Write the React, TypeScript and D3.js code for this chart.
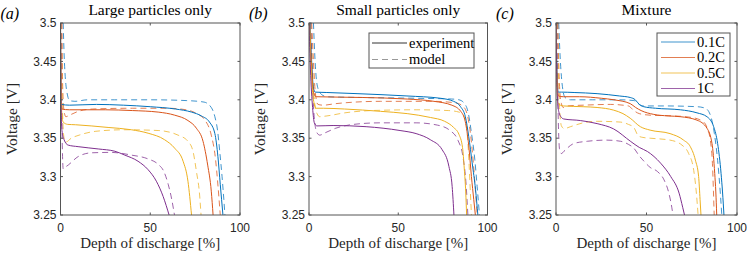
import * as d3 from 'd3';

type Pt = [number, number];

const DOD_TICKS = [0, 50, 100];
const V_TICKS = [3.25, 3.3, 3.35, 3.4, 3.45, 3.5];
const RATES = ['0.1C', '0.2C', '0.5C', '1C'];
const RATE_COLORS = ['#0072BD', '#D95319', '#EDB120', '#7E2F8E'];
const TITLES = ['Large particles only', 'Small particles only', 'Mixture'];
const TAGS = ['(a)', '(b)', '(c)'];

// (a) large particles: [depth of discharge %, voltage V], one list per C-rate
const largeExp: Pt[][] = [
  [[0, 3.5], [0.2, 3.42], [0.5, 3.394], [5, 3.393], [20, 3.394], [35, 3.393], [50, 3.391], [64, 3.388], [73, 3.384], [78.5, 3.379], [83, 3.371], [86, 3.356], [87.7, 3.326], [89, 3.29], [90.5, 3.25]],
  [[0, 3.5], [0.2, 3.42], [0.5, 3.388], [5, 3.387], [25, 3.387], [40, 3.386], [54.4, 3.384], [63.6, 3.38], [71, 3.373], [75.7, 3.363], [79.4, 3.346], [82, 3.315], [84, 3.281], [85, 3.25]],
  [[0, 3.5], [0.3, 3.42], [0.8, 3.38], [1.5, 3.371], [4, 3.368], [8.4, 3.3675], [26.5, 3.364], [39.5, 3.361], [48.8, 3.3565], [58, 3.348], [63.6, 3.337], [68.3, 3.32], [71, 3.294], [73, 3.25]],
  [[0, 3.5], [0.3, 3.4], [0.8, 3.36], [2, 3.348], [4.3, 3.341], [9.8, 3.339], [21, 3.336], [30.3, 3.333], [35.8, 3.328], [43.2, 3.32], [48.8, 3.309], [53.4, 3.294], [57.2, 3.274], [60.5, 3.25]],
];
const largeModel: Pt[][] = [
  [[1.5, 3.5], [2, 3.46], [2.5, 3.435], [3, 3.42], [4, 3.405], [5, 3.399], [8, 3.398], [15, 3.4], [30, 3.4], [50, 3.4], [70, 3.399], [80, 3.397], [84, 3.39], [86, 3.378], [87.5, 3.36], [88.7, 3.333], [90, 3.3], [91, 3.27], [91.6, 3.25]],
  [[0.8, 3.5], [1, 3.45], [1.3, 3.41], [2, 3.385], [3, 3.378], [5, 3.38], [10, 3.385], [18, 3.388], [40, 3.389], [60, 3.389], [70, 3.387], [76.6, 3.381], [80.3, 3.374], [84, 3.354], [86.3, 3.324], [87.7, 3.289], [89, 3.25]],
  [[0.5, 3.5], [0.8, 3.43], [1.2, 3.38], [2, 3.35], [3, 3.345], [6, 3.35], [10.4, 3.354], [19.7, 3.359], [35.8, 3.361], [54.4, 3.36], [65.5, 3.354], [71, 3.346], [73.8, 3.333], [75.7, 3.307], [77.5, 3.276], [78.3, 3.25]],
  [[0.3, 3.5], [0.6, 3.4], [1, 3.34], [1.5, 3.31], [2.5, 3.312], [4.3, 3.315], [9.8, 3.326], [17.3, 3.331], [28.5, 3.3315], [39.5, 3.328], [48.8, 3.323], [54.4, 3.316], [57.5, 3.307], [60, 3.29], [62, 3.27], [63.5, 3.25]],
];

// (b) small particles
const smallExp: Pt[][] = [
  [[0.5, 3.5], [1.5, 3.45], [2.5, 3.415], [3.5, 3.41], [10, 3.4095], [26.9, 3.408], [54.9, 3.405], [73.6, 3.402], [81, 3.398], [84.9, 3.391], [87.6, 3.378], [89.5, 3.352], [91.4, 3.318], [93.3, 3.283], [94.6, 3.25]],
  [[0.3, 3.5], [1.3, 3.45], [2.5, 3.41], [4, 3.404], [30, 3.403], [55, 3.401], [70, 3.398], [80, 3.393], [85, 3.385], [87.5, 3.372], [89.5, 3.34], [91, 3.3], [92.3, 3.27], [93.2, 3.25]],
  [[0.3, 3.5], [1.2, 3.44], [2.5, 3.4], [4, 3.389], [8, 3.389], [20, 3.388], [40, 3.385], [55, 3.382], [68, 3.377], [76, 3.372], [81, 3.364], [84, 3.355], [86, 3.338], [87, 3.31], [87.8, 3.28], [88.3, 3.25]],
  [[0, 3.5], [0.8, 3.44], [2, 3.39], [3, 3.37], [4.5, 3.366], [13.5, 3.3665], [32, 3.365], [51, 3.36], [60, 3.356], [68, 3.348], [74.6, 3.335], [78.4, 3.313], [80.2, 3.287], [81.2, 3.25]],
];
const smallModel: Pt[][] = [
  [[2.5, 3.5], [3.2, 3.46], [4, 3.43], [5, 3.415], [7, 3.407], [10, 3.404], [30, 3.403], [60, 3.402], [80, 3.401], [84, 3.4], [86.8, 3.396], [89.2, 3.383], [91, 3.357], [92.9, 3.322], [94.2, 3.287], [95.5, 3.25]],
  [[1.5, 3.5], [2.5, 3.45], [3.5, 3.41], [5, 3.394], [8, 3.393], [15, 3.395], [40, 3.398], [70, 3.398], [82, 3.396], [86, 3.392], [88.5, 3.382], [90.5, 3.355], [92, 3.32], [93.3, 3.28], [94.2, 3.25]],
  [[1, 3.5], [2, 3.44], [3, 3.4], [4.5, 3.382], [6, 3.378], [10, 3.379], [20, 3.383], [35, 3.386], [60, 3.387], [78, 3.386], [84, 3.384], [87, 3.378], [88.5, 3.36], [89.6, 3.32], [90.4, 3.28], [91, 3.25]],
  [[1, 3.5], [2, 3.42], [3, 3.375], [4.5, 3.357], [6, 3.354], [9, 3.357], [15, 3.363], [25, 3.368], [40, 3.37], [60, 3.37], [72, 3.367], [79, 3.36], [83.5, 3.347], [86.3, 3.325], [88, 3.29], [89, 3.25]],
];

// (c) mixture
const mixExp: Pt[][] = [
  [[0, 3.5], [0.5, 3.44], [1.2, 3.41], [3, 3.41], [10, 3.4095], [22.7, 3.408], [35, 3.405], [41, 3.403], [43.8, 3.4], [46, 3.394], [48.5, 3.391], [55, 3.389], [68.7, 3.387], [77.9, 3.383], [83.4, 3.378], [87.1, 3.365], [89.3, 3.343], [91.2, 3.304], [92, 3.28], [92.8, 3.25]],
  [[0, 3.5], [0.5, 3.43], [1.3, 3.405], [4, 3.404], [13, 3.404], [25, 3.402], [32, 3.4], [41, 3.395], [44, 3.39], [47, 3.386], [54, 3.381], [62, 3.379], [68.7, 3.378], [77.9, 3.3735], [83.4, 3.363], [86.2, 3.343], [87.7, 3.304], [88.3, 3.28], [88.8, 3.25]],
  [[0, 3.5], [0.4, 3.43], [1.2, 3.395], [4, 3.392], [15, 3.391], [22.7, 3.39], [31.9, 3.3865], [37, 3.382], [41, 3.376], [46.6, 3.365], [52, 3.3605], [63, 3.356], [70.5, 3.3475], [74.2, 3.339], [77, 3.3215], [78.8, 3.3], [79.6, 3.27], [80.1, 3.25]],
  [[0, 3.5], [0.5, 3.42], [1.5, 3.385], [3, 3.377], [4.4, 3.375], [13.4, 3.373], [22.7, 3.369], [31.9, 3.362], [41.3, 3.3457], [46, 3.338], [50.5, 3.3327], [57.8, 3.3175], [63.4, 3.3], [68, 3.2785], [70, 3.26], [71, 3.25]],
];
const mixModel: Pt[][] = [
  [[1.5, 3.5], [2.2, 3.46], [3, 3.43], [4, 3.41], [5, 3.403], [8, 3.4], [20, 3.4], [35, 3.4], [43, 3.399], [46, 3.394], [48, 3.392], [60, 3.392], [78, 3.391], [82.5, 3.389], [85.3, 3.38], [87.5, 3.356], [89.3, 3.321], [90.8, 3.278], [91.6, 3.25]],
  [[1, 3.5], [1.6, 3.44], [2.3, 3.405], [3, 3.395], [4, 3.39], [6, 3.392], [15, 3.393], [30, 3.394], [40, 3.392], [43, 3.386], [46, 3.382], [52, 3.38], [65, 3.379], [75, 3.377], [81.6, 3.371], [84, 3.36], [85.3, 3.347], [86.5, 3.313], [87, 3.28], [87.4, 3.25]],
  [[0.8, 3.5], [1.3, 3.44], [2, 3.39], [3, 3.366], [4.5, 3.3625], [8, 3.365], [15, 3.37], [22.7, 3.372], [35.5, 3.371], [40, 3.368], [43, 3.364], [45.5, 3.353], [48, 3.351], [52, 3.35], [63, 3.3475], [69.6, 3.341], [73.3, 3.33], [76.1, 3.308], [77.5, 3.28], [78.5, 3.25]],
  [[0.5, 3.5], [0.9, 3.42], [1.3, 3.37], [2, 3.335], [3, 3.33], [4.4, 3.333], [9.8, 3.343], [17.3, 3.346], [28, 3.3475], [35.7, 3.346], [40, 3.342], [43, 3.337], [46, 3.327], [48.6, 3.32], [52, 3.312], [56, 3.3067], [59.7, 3.2957], [62.4, 3.278], [64.3, 3.255], [64.6, 3.25]],
];

const PANEL_X = [[60.5, 240], [309, 487.5], [556, 737]];
const TOP = 23;
const BOTTOM = 215;
const SERIF = '"Liberation Serif", "Times New Roman", serif';
const SANS = '"Liberation Sans", Arial, sans-serif';
const AXIS = '#555';
const DASH = '6,4';

function Panel({ idx, exp, model }: { idx: number; exp: Pt[][]; model: Pt[][] }) {
  const [x0, x1] = PANEL_X[idx];
  const x = d3.scaleLinear().domain([0, 100]).range([x0, x1]);
  const y = d3.scaleLinear().domain([3.25, 3.5]).range([BOTTOM, TOP]);
  const line = d3.line<Pt>().x(d => x(d[0])).y(d => y(d[1])).curve(d3.curveMonotoneX);
  const clipId = `clip-${idx}`;
  const cx = (x0 + x1) / 2;
  const cy = (TOP + BOTTOM) / 2;

  return (
    <g>
      <defs>
        <clipPath id={clipId}>
          <rect x={x0} y={TOP} width={x1 - x0} height={BOTTOM - TOP} />
        </clipPath>
      </defs>
      <rect x={x0} y={TOP} width={x1 - x0} height={BOTTOM - TOP} fill="#fff" />
      <g clipPath={`url(#${clipId})`} fill="none">
        {model.map((pts, i) => (
          <path key={'m' + i} d={line(pts) ?? ''} stroke={RATE_COLORS[i]} strokeWidth={1} strokeDasharray={DASH} opacity={0.75} />
        ))}
        {exp.map((pts, i) => (
          <path key={'e' + i} d={line(pts) ?? ''} stroke={RATE_COLORS[i]} strokeWidth={1} />
        ))}
      </g>
      <rect x={x0} y={TOP} width={x1 - x0} height={BOTTOM - TOP} fill="none" stroke={AXIS} strokeWidth={1} />
      {DOD_TICKS.map(t => (
        <g key={'xt' + t}>
          <line x1={x(t)} x2={x(t)} y1={BOTTOM} y2={BOTTOM - 2.5} stroke={AXIS} />
          <line x1={x(t)} x2={x(t)} y1={TOP} y2={TOP + 2.5} stroke={AXIS} />
          <text x={x(t)} y={232} textAnchor="middle" fontFamily={SANS} fontSize={12} fill="#262626">{t}</text>
        </g>
      ))}
      {V_TICKS.map(t => (
        <g key={'yt' + t}>
          <line x1={x0} x2={x0 + 2.5} y1={y(t)} y2={y(t)} stroke={AXIS} />
          <line x1={x1} x2={x1 - 2.5} y1={y(t)} y2={y(t)} stroke={AXIS} />
          <text x={x0 - 4} y={y(t)} dy="0.35em" textAnchor="end" fontFamily={SANS} fontSize={12} fill="#262626">{String(t)}</text>
        </g>
      ))}
      <text x={cx} y={15} textAnchor="middle" fontFamily={SERIF} fontSize={15.5} fill="#000">{TITLES[idx]}</text>
      <text x={x0 - 60} y={19} fontFamily={SERIF} fontStyle="italic" fontSize={16} fill="#000">{TAGS[idx]}</text>
      <text x={cx} y={248} textAnchor="middle" fontFamily={SERIF} fontSize={15} fill="#262626">Depth of discharge [%]</text>
      <text transform={`translate(${x0 - 44},${cy}) rotate(-90)`} textAnchor="middle" fontFamily={SERIF} fontSize={15.5} fill="#262626">Voltage [V]</text>
    </g>
  );
}

function TypeLegend() {
  const lx = 369, ly = 33, w = 105, h = 35;
  const rows = [
    { label: 'experiment', dash: undefined, color: '#333' },
    { label: 'model', dash: DASH, color: '#999' },
  ];
  return (
    <g>
      <rect x={lx} y={ly} width={w} height={h} fill="#fff" stroke={AXIS} />
      {rows.map((r, i) => (
        <g key={r.label}>
          <line x1={lx + 3} x2={lx + 38} y1={ly + 10 + i * 16.5} y2={ly + 10 + i * 16.5} stroke={r.color} strokeDasharray={r.dash} />
          <text x={lx + 40} y={ly + 10 + i * 16.5} dy="0.32em" fontFamily={SERIF} fontSize={14.5} fill="#000">{r.label}</text>
        </g>
      ))}
    </g>
  );
}

function RateLegend() {
  const lx = 657, ly = 33, w = 73, h = 63;
  return (
    <g>
      <rect x={lx} y={ly} width={w} height={h} fill="#fff" stroke={AXIS} />
      {RATES.map((r, i) => (
        <g key={r}>
          <line x1={lx + 4} x2={lx + 38} y1={ly + 9 + i * 15.5} y2={ly + 9 + i * 15.5} stroke={RATE_COLORS[i]} opacity={0.75} />
          <text x={lx + 40} y={ly + 9 + i * 15.5} dy="0.32em" fontFamily={SERIF} fontSize={14.5} fill="#000">{r}</text>
        </g>
      ))}
    </g>
  );
}

export default function App() {
  return (
    <svg width={747} height={253} style={{ position: 'absolute', left: 0, top: 0, background: '#fff' }}>
      <Panel idx={0} exp={largeExp} model={largeModel} />
      <Panel idx={1} exp={smallExp} model={smallModel} />
      <Panel idx={2} exp={mixExp} model={mixModel} />
      <TypeLegend />
      <RateLegend />
    </svg>
  );
}
